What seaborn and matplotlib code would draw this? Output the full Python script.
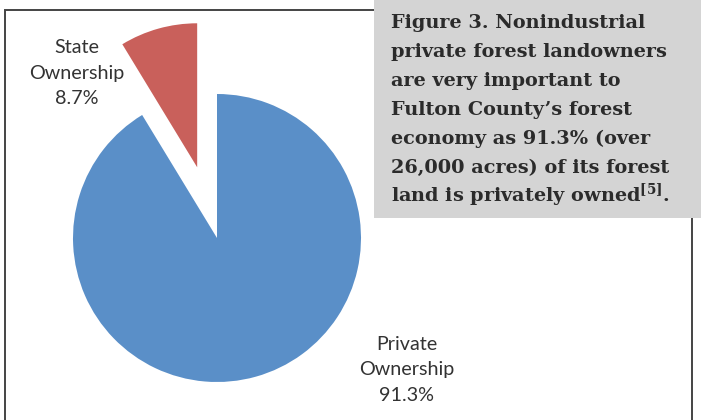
import numpy as np
import pandas as pd
import matplotlib
matplotlib.use("Agg")
import matplotlib.pyplot as plt
import seaborn as sns
from matplotlib.patches import Rectangle

# data
owners = ["Private\nOwnership", "State\nOwnership"]
shares = [91.3, 8.7]
slice_colors = ["#5A8FC8", "#C9605B"]
caption_lines = [
    "Figure 3. Nonindustrial",
    "private forest landowners",
    "are very important to",
    "Fulton County\u2019s forest",
    "economy as 91.3% (over",
    "26,000 acres) of its forest",
    "land is privately owned$^{\\mathbf{[5]}}$.",
]

sns.set_theme(style="white")
plt.rcParams["mathtext.fontset"] = "dejavuserif"

W, H = 701, 420
fig = plt.figure(figsize=(W / 100, H / 100), dpi=100)
ax = fig.add_axes([0, 0, 1, 1])
ax.axis("off")

# chart frame
ax.add_patch(Rectangle((5, -10), 687, H, fill=False,
                       edgecolor="#444444", linewidth=1.4))

# pie (y measured upward), state slice pulled out
cx, cy, r = 217, H - 238, 144
df = pd.DataFrame({"owner": owners, "share": shares})
ax.pie(df["share"], colors=slice_colors, explode=[0, 0.51 * r], startangle=90,
       counterclock=False, center=(cx, cy), radius=r,
       wedgeprops=dict(linewidth=0))
ax.set_xlim(0, W)
ax.set_ylim(0, H)

label_font = dict(family=["Lato", "DejaVu Sans"], fontsize=14.2, color="#333333",
                  ha="center", va="center", linespacing=1.6)
ax.text(77, H - 73, f"{owners[1]}\n{shares[1]}%", **label_font)
ax.text(407, H - 370, f"{owners[0]}\n{shares[0]}%", **label_font)

# caption box
ax.add_patch(Rectangle((374, H - 218), W - 374, 218, facecolor="#D4D4D4",
                       edgecolor="none", zorder=3))
for i, line in enumerate(caption_lines):
    ax.text(391, H - 28 - i * 29, line, family="DejaVu Serif", fontweight="bold",
            fontsize=13.9, color="#2B2B2B", ha="left", va="baseline", zorder=4)

fig.savefig("out.png", dpi=100)
